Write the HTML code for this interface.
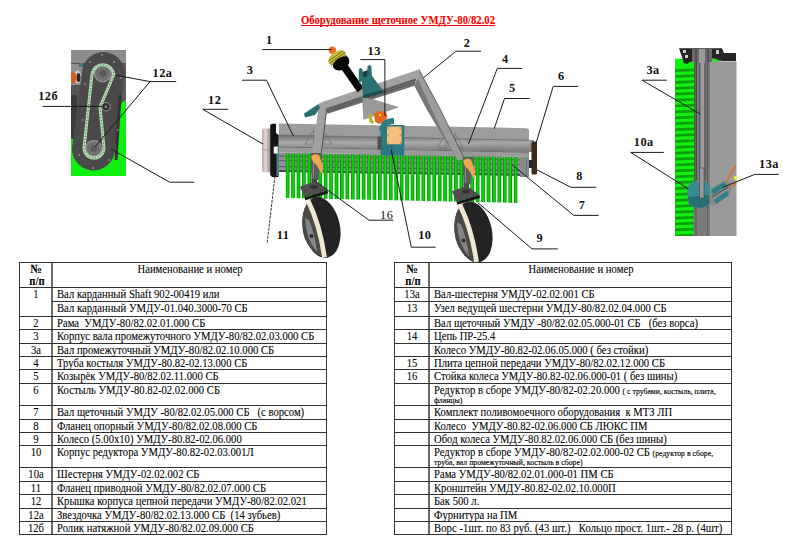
<!DOCTYPE html>
<html><head><meta charset="utf-8"><style>
html,body{margin:0;padding:0;background:#fff;}
body{width:800px;height:556px;overflow:hidden;position:relative;font-family:"Liberation Serif",serif;color:#000;}
.t,.b,.title{-webkit-text-stroke:0.08px currentColor;}
.h{position:absolute;height:1px;background:#333;}
.v{position:absolute;width:1px;background:#333;}
.t,.b{position:absolute;font-size:11.5px;line-height:13px;white-space:pre;transform:scaleX(0.926);transform-origin:0 0;}
.b{font-weight:bold;}
.c{text-align:center;transform-origin:50% 0;}
.s{font-size:8.4px;-webkit-text-stroke:0.15px #000;}
.title{position:absolute;left:301px;top:12px;font-size:13px;font-weight:bold;color:#f00;text-decoration:underline;text-decoration-skip-ink:none;white-space:nowrap;line-height:16px;transform:scaleX(0.822);transform-origin:0 0;}
.lbl{position:absolute;font-size:12px;font-weight:bold;line-height:14px;white-space:nowrap;}
svg{position:absolute;left:0;top:0;}
</style></head><body>
<svg width="800" height="556" viewBox="0 0 800 556">
<defs>
 <linearGradient id="cyl" x1="0" y1="0" x2="0" y2="1">
  <stop offset="0" stop-color="#6c6c6c"/><stop offset="0.45" stop-color="#a9a9a9"/><stop offset="1" stop-color="#747474"/>
 </linearGradient>
 <linearGradient id="brs" x1="0" y1="0" x2="1" y2="0">
  <stop offset="0" stop-color="#087a08"/><stop offset="0.4" stop-color="#08e008"/><stop offset="0.6" stop-color="#08d808"/><stop offset="1" stop-color="#067006"/>
 </linearGradient>
 <pattern id="bristle" x="285.75" y="0" width="5.43" height="300" patternUnits="userSpaceOnUse">
  <rect x="0" y="0" width="3.75" height="300" fill="url(#brs)"/>
 </pattern>
 <linearGradient id="beige" x1="0" y1="0" x2="1" y2="0">
  <stop offset="0" stop-color="#b8a8a6"/><stop offset="0.45" stop-color="#e6dad6"/><stop offset="1" stop-color="#9a8a86"/>
 </linearGradient>
 <clipPath id="clipL"><rect x="71" y="50" width="55" height="126"/></clipPath>
 <clipPath id="clipR"><rect x="675" y="47" width="62" height="189"/></clipPath>
</defs>

<!-- ============ LEFT ILLUSTRATION (chain drive) ============ -->
<g clip-path="url(#clipL)">
 <rect x="71" y="50" width="55" height="126" fill="#5e5e5e"/>
 <rect x="71" y="50" width="55" height="13" fill="#8c8c8c"/>
 <rect x="71" y="63" width="13" height="77" fill="#555"/><rect x="71" y="95" width="6" height="45" fill="#3a3a3a"/>
 <rect x="71" y="64" width="12" height="21" fill="#8e8e8e"/>
 <ellipse cx="77.5" cy="77" rx="4" ry="6.5" fill="#c8c8c8"/>
 <ellipse cx="78.5" cy="77.5" rx="2" ry="4.5" fill="#2a2a2a"/>
 <rect x="79" y="63" width="4" height="4" fill="#3a7a7a"/>
 <ellipse cx="73" cy="77.5" rx="3.5" ry="5.5" fill="#e05a18"/>
 <polygon points="71,139 83,139 83,112 117,106 126,100 126,176 71,176" fill="#10f010"/>
 <line x1="103.5" y1="73.5" x2="93.5" y2="149" stroke="#4a4a4a" stroke-width="43" stroke-linecap="round"/>
 <line x1="120" y1="95" x2="116" y2="160" stroke="#333" stroke-width="3"/>
 <!-- sprockets -->
 <circle cx="102.8" cy="73.5" r="8.3" fill="#6f6f6f" stroke="#8f8f8f" stroke-width="1.4"/>
 <circle cx="102.8" cy="73.5" r="3.5" fill="#5a5a5a"/>
 <circle cx="93.7" cy="148.5" r="7.8" fill="#6f6f6f" stroke="#8f8f8f" stroke-width="1.4"/>
 <circle cx="93.7" cy="148.5" r="3.2" fill="#5a5a5a"/>
 <!-- chain -->
 <path d="M92,74 A11,11 0 0 1 113.8,74.5 L100,107 L104,148 A10,10 0 0 1 84,148 Z" fill="none" stroke="#b0dcb0" stroke-width="3"/>
 <path d="M92,74 A11,11 0 0 1 113.8,74.5 L100,107 L104,148 A10,10 0 0 1 84,148 Z" fill="none" stroke="#3c5a40" stroke-width="1" stroke-dasharray="1 2.2"/>
 <!-- tensioner -->
 <circle cx="106" cy="106.7" r="4.2" fill="#2a2a2a" stroke="#999" stroke-width="1"/>
 <circle cx="106" cy="106.7" r="1.5" fill="#777"/>
 <!-- bolts -->
 <g fill="#8a8a8a">
  <circle cx="90" cy="62" r="1"/><circle cx="102" cy="55" r="1"/><circle cx="114" cy="62" r="1"/>
  <circle cx="85" cy="84" r="1"/><circle cx="121" cy="78" r="1"/><circle cx="83" cy="120" r="1"/>
  <circle cx="118" cy="130" r="1"/><circle cx="79" cy="155" r="1"/><circle cx="93" cy="168" r="1"/><circle cx="109" cy="160" r="1"/>
 </g>
</g>

<!-- ============ CENTER ILLUSTRATION ============ -->
<!-- brush core & bristles -->
<polygon points="279,152.4 527,156.5 527,175 279,171" fill="#929292"/>
<g stroke="#5a5a5a" stroke-width="0.9">
 <line x1="279" y1="156" x2="527" y2="160"/><line x1="279" y1="160.6" x2="527" y2="164.6"/><line x1="279" y1="166.5" x2="527" y2="170.5"/>
</g>
<polygon points="279,170 527,174 527,176 279,172" fill="#4e4a50"/>
<polygon points="285.5,153.5 517.6,157 517.6,203 285.5,198" fill="url(#bristle)"/>
<!-- cover body -->
<polygon points="279,123.4 527,128.2 529,130 529,141 279,136" fill="#9c9c9c"/>
<polygon points="275.5,134.9 534,140 534,152 275.5,146.6" fill="url(#cyl)"/>
<polygon points="275.5,146.6 529,152 529,157 279,152.4" fill="#9a9a9a"/>
<line x1="276" y1="146.8" x2="529" y2="152.2" stroke="#5e5e5e" stroke-width="0.8"/>
<line x1="276" y1="135" x2="529" y2="140.2" stroke="#6a6a6a" stroke-width="0.7"/>
<g fill="none" stroke="#6a6a6a" stroke-width="0.6">
 <polygon points="305,144 313.5,130 313.5,144"/><polygon points="323,144 323,130 332,144"/>
 <polygon points="437,148 446,133 446,148"/><polygon points="455,148 455,133 463,148"/>
</g>
<!-- left end flanges -->
<path d="M264,128.5 L270.2,128.5 L270.2,172.3 L264,172.3 Q262,172.3 262,170 L262,131 Q262,128.5 264,128.5 Z" fill="url(#beige)"/>
<line x1="262" y1="150" x2="270" y2="150" stroke="#9a8a88" stroke-width="0.7"/>
<polygon points="270.2,125 272,123.8 276,123.8 276,133 278.4,135 278.4,177 272,177 270.2,175" fill="#151515"/>
<rect x="276.5" y="146" width="2.5" height="30" fill="#4a8088"/>
<rect x="273.7" y="146.6" width="4" height="7" fill="#f4f4f4"/>
<!-- right end flange -->
<rect x="520" y="157" width="9" height="20" fill="#8a8a8a"/>
<line x1="526.5" y1="158" x2="526.5" y2="177" stroke="#3a8088" stroke-width="0.8"/>
<ellipse cx="532.5" cy="146" rx="2.2" ry="5.8" fill="#8a8a8a"/>
<rect x="531.5" y="141.4" width="5.5" height="33" rx="1.5" fill="#3e2818"/>
<rect x="529" y="160" width="4" height="8" fill="#2a2a2a"/>
<!-- frame: left tube -->
<polygon points="319.3,103 327,107.5 320.5,160 311,160" fill="#a0a0a0"/>
<line x1="326.8" y1="108" x2="320.5" y2="160" stroke="#4a4a4a" stroke-width="0.9"/>
<polygon points="304,113.5 305,117.5 315,115 320,108 318.5,104" fill="#2c6e70"/>
<!-- upper beam -->
<polygon points="319.3,103 418.9,69.4 414.4,85.8 327.4,113.8 326.5,108" fill="#a2a2a2"/>
<polygon points="326.5,108 416.5,78 414.4,85.8 327.4,113.8" fill="#6e6e6e"/>
<g stroke="#4e4e4e" stroke-width="0.7"><line x1="327" y1="109.5" x2="415.5" y2="80"/><line x1="327" y1="111.7" x2="415" y2="82.5"/></g>
<!-- right leg -->
<polygon points="418.9,69.4 440.6,110 465,160 457.4,160 442,135 427.2,110 414.4,85.8" fill="#9c9c9c"/>
<polygon points="414.4,85.8 418,79 430,106 444,135 457.4,160 442,135 427.2,110" fill="#787878"/>
<line x1="418.9" y1="69.4" x2="440.6" y2="110" stroke="#4a4a4a" stroke-width="0.8"/>
<line x1="440.6" y1="110" x2="465" y2="160" stroke="#4a4a4a" stroke-width="0.8"/>
<!-- triangle plate -->
<polygon points="362.5,96.5 397.8,107.2 363.8,119.2" fill="#9a9a9a" stroke="#777" stroke-width="0.6"/>
<!-- PTO shaft -->
<circle cx="332.4" cy="50.3" r="3.7" fill="#f07020"/>
<line x1="344.5" y1="67" x2="360.5" y2="90" stroke="#050505" stroke-width="7.5"/>
<ellipse cx="341" cy="62.8" rx="9" ry="7" fill="#050505" transform="rotate(-35 341 62.8)"/>
<ellipse cx="337.2" cy="57.8" rx="10" ry="6" fill="#c4bc38" transform="rotate(-35 337.2 57.8)"/>
<g stroke="#6a6418" stroke-width="0.8" transform="rotate(-35 337.2 57.8)">
 <line x1="328" y1="55.5" x2="346" y2="55.5"/><line x1="327.5" y1="58" x2="346.5" y2="58"/><line x1="328" y1="60.5" x2="346" y2="60.5"/>
</g>
<ellipse cx="340.5" cy="62.5" rx="8.5" ry="4.5" fill="#050505" transform="rotate(-35 340.5 62.5)"/>
<!-- teal hitch -->
<polygon points="362,72 368,70 368,78 362,79" fill="#173e40"/>
<path d="M358.8,83.6 L358.8,69.5 Q360.5,66.5 362.5,69.5 L363.5,80 Z" fill="#2c6e70"/>
<path d="M367,78 L367.5,66.5 Q369.5,63.5 371.4,66.5 L372,77 Z" fill="#2c6e70"/>
<polygon points="361.4,77.5 371.9,75.75 382.8,90.2 363.1,96.75" fill="#2c7072"/>
<polygon points="363.1,95 382.8,90.2 383.2,92.8 363.5,98.5" fill="#1a4a4c"/>
<!-- U-joint + gearbox -->
<path d="M371.5,114 Q368.5,119 373,123" stroke="#b8b030" stroke-width="3.2" fill="none"/>
<polygon points="374,114 379,111 386,112 387.5,117 384,122.5 379,124 375,121.5" fill="#e2661e"/>
<circle cx="380" cy="115" r="1.2" fill="#f0e030"/>
<path d="M382,131 Q383,121 394,121" stroke="#2a7e86" stroke-width="6" fill="none"/>
<polygon points="380.5,128 386,125 404.3,125 404.3,155.5 380.5,155.5" fill="#2a7a82"/>
<rect x="377.5" y="136.5" width="4" height="13" fill="#505050"/>
<polygon points="387,126.5 401.6,126.5 401.6,144.3 387,144.3" fill="#f6bf7c"/>
<g fill="#5a4a3a"><circle cx="388.3" cy="128" r="0.6"/><circle cx="400.3" cy="128" r="0.6"/><circle cx="388.3" cy="143" r="0.6"/><circle cx="400.3" cy="143" r="0.6"/><circle cx="388.3" cy="135" r="0.6"/><circle cx="400.3" cy="135" r="0.6"/></g>
<line x1="392" y1="145" x2="391" y2="155" stroke="#1e5a60" stroke-width="0.8"/>
<!-- left wheel -->
<g>
 <ellipse cx="321.5" cy="227.5" rx="18.5" ry="30.8" fill="#232323" transform="rotate(-11 321.5 227.5)"/>
 <path d="M313,198.5 Q301,206 302.5,228 Q304,248 324,258 Q320,226 309,200 Z" fill="#4a4a4a"/>
 <path d="M305,218 Q306,240 317,252 Q315,234 309,220 Z" fill="#858585"/>
 <circle cx="311.5" cy="236" r="2" fill="#2e2e2e"/>
 <path d="M308,200.5 Q320,225 324.5,257.5" stroke="#efe9d2" stroke-width="4.8" fill="none"/>
 
 
 
 
 <polygon points="310.5,153 321,153 318.5,180 311.5,180" fill="#5c5c5c"/>
 <line x1="313.5" y1="155" x2="313.5" y2="178" stroke="#8a8a8a" stroke-width="1"/>
 <rect x="311.5" y="179" width="5.5" height="10" fill="#4a4a4a"/>
 <polygon points="299.9,186.7 315,181.3 327.4,190.5 304.7,197.5" fill="#4e4e4e"/>
 <ellipse cx="314" cy="187" rx="4" ry="2" fill="#333"/>
 <polygon points="304.7,197.5 327.4,190.5 328,193.5 305.2,200.3" fill="#141414"/>
 <polygon points="311,156 315,154 319,155 323,166 322.5,175 317,166 312,160" fill="#f0a850"/>
</g>
<!-- right wheel -->
<g transform="translate(152 4.5)">
 <ellipse cx="321.5" cy="227.5" rx="18.5" ry="30.8" fill="#232323" transform="rotate(-11 321.5 227.5)"/>
 <path d="M313,198.5 Q301,206 302.5,228 Q304,248 324,258 Q320,226 309,200 Z" fill="#4a4a4a"/>
 <path d="M305,218 Q306,240 317,252 Q315,234 309,220 Z" fill="#858585"/>
 <circle cx="311.5" cy="236" r="2" fill="#2e2e2e"/>
 <path d="M308,200.5 Q320,225 324.5,257.5" stroke="#efe9d2" stroke-width="4.8" fill="none"/>
 
 
 
 
 <polygon points="310.5,153 321,153 318.5,180 311.5,180" fill="#5c5c5c"/>
 <line x1="313.5" y1="155" x2="313.5" y2="178" stroke="#8a8a8a" stroke-width="1"/>
 <rect x="311.5" y="179" width="5.5" height="10" fill="#4a4a4a"/>
 <polygon points="299.9,186.7 315,181.3 327.4,190.5 304.7,197.5" fill="#4e4e4e"/>
 <ellipse cx="314" cy="187" rx="4" ry="2" fill="#333"/>
 <polygon points="304.7,197.5 327.4,190.5 328,193.5 305.2,200.3" fill="#141414"/>
 <polygon points="311,156 315,154 319,155 323,166 322.5,175 317,166 312,160" fill="#f0a850"/>
</g>

<!-- ============ RIGHT ILLUSTRATION ============ -->
<g clip-path="url(#clipR)">
 <rect x="675" y="58.8" width="20" height="177" fill="#10f010"/>
 <g stroke="#0b9e0b" stroke-width="2.7"><line x1="675" y1="70.6" x2="694" y2="69.8"/><line x1="675" y1="76.5" x2="694" y2="75.7"/><line x1="675" y1="82.4" x2="694" y2="81.6"/><line x1="675" y1="88.3" x2="694" y2="87.5"/><line x1="675" y1="94.2" x2="694" y2="93.4"/><line x1="675" y1="100.1" x2="694" y2="99.3"/><line x1="675" y1="106.0" x2="694" y2="105.2"/><line x1="675" y1="111.9" x2="694" y2="111.1"/><line x1="675" y1="117.8" x2="694" y2="117.0"/><line x1="675" y1="123.7" x2="694" y2="122.9"/><line x1="675" y1="129.6" x2="694" y2="128.8"/><line x1="675" y1="135.5" x2="694" y2="134.7"/><line x1="675" y1="141.4" x2="694" y2="140.6"/><line x1="675" y1="147.3" x2="694" y2="146.5"/><line x1="675" y1="153.2" x2="694" y2="152.4"/><line x1="675" y1="159.1" x2="694" y2="158.3"/><line x1="675" y1="165.0" x2="694" y2="164.2"/><line x1="675" y1="170.9" x2="694" y2="170.1"/><line x1="675" y1="176.8" x2="694" y2="176.0"/><line x1="675" y1="182.7" x2="694" y2="181.9"/><line x1="675" y1="188.6" x2="694" y2="187.8"/><line x1="675" y1="194.5" x2="694" y2="193.7"/><line x1="675" y1="200.4" x2="694" y2="199.6"/><line x1="675" y1="206.3" x2="694" y2="205.5"/><line x1="675" y1="212.2" x2="694" y2="211.4"/><line x1="675" y1="218.1" x2="694" y2="217.3"/><line x1="675" y1="224.0" x2="694" y2="223.2"/><line x1="675" y1="229.9" x2="694" y2="229.1"/><line x1="675" y1="235.8" x2="694" y2="235.0"/></g>
 <rect x="694.5" y="55" width="14" height="181" fill="#7c7c7c"/>
 <rect x="700" y="58" width="4.6" height="120" fill="#9c9c9c"/>
 <g stroke="#3a3a3a" stroke-width="0.9">
  <line x1="694.8" y1="58" x2="694.8" y2="236"/><line x1="696.4" y1="58" x2="696.4" y2="180"/>
  <line x1="699.8" y1="58" x2="699.8" y2="180"/><line x1="705" y1="58" x2="705" y2="180"/>
  <line x1="707.8" y1="58" x2="707.8" y2="236"/>
 </g>
 <rect x="708.5" y="58.8" width="12" height="3" fill="#10f010"/>
 <rect x="708.5" y="61.4" width="28" height="175" fill="#9a9a9a"/>
 <line x1="709" y1="61" x2="709" y2="236" stroke="#5a5a5a" stroke-width="1"/>
 <polygon points="679,48.3 722,48.3 724,53 736,53 736,61 722,61 714,58.5 700,60 690,62 687,64 684,63" fill="#262626"/>
 <rect x="683" y="50" width="3" height="3" fill="#d8c8c0"/><rect x="685" y="55" width="3" height="3" fill="#d8c8c0"/>
 <rect x="716" y="50" width="3" height="4" fill="#d8c8c0"/><rect x="692" y="49" width="20" height="13" fill="#6a6a6a"/><rect x="699" y="49" width="6" height="14" fill="#9a9a9a"/><line x1="696" y1="49" x2="696" y2="62" stroke="#333" stroke-width="0.8"/><line x1="708" y1="49" x2="708" y2="62" stroke="#333" stroke-width="0.8"/>
 <path d="M727,181 Q731,172 736,166" stroke="#e86a20" stroke-width="1.6" fill="none"/>
 <path d="M726,191 Q731,188 736,183" stroke="#e86a20" stroke-width="1.6" fill="none"/>
 <circle cx="735.5" cy="178" r="2" fill="#f0f020"/>
 <polygon points="708,190 725,180 731,183 731,193 716,205 708,205" fill="#8a8a8a"/>
 <polygon points="711,190 724,182 727,186 713,195" fill="#2e7e86"/>
 <polygon points="714,200 727,191 729,195 716,204" fill="#2e7e86"/>
 <line x1="712" y1="197" x2="728" y2="187" stroke="#333" stroke-width="0.8"/>
 <polygon points="687,187 692,182 704,181 710,184 710,204 703,208 691,207 688,203" fill="#3a8a92"/>
 <polygon points="688,197 709,195 709,204 702,208 690,206" fill="#2a6e74"/>
 <rect x="699.5" y="168" width="4.5" height="30" fill="#9a9a9a" stroke="#444" stroke-width="0.6"/>
 <rect x="693.5" y="209" width="14" height="27" fill="#7a7a7a"/>
 <line x1="696" y1="209" x2="696" y2="236" stroke="#444" stroke-width="0.8"/>
</g>
</svg>
<svg width="800" height="556" viewBox="0 0 800 556" style="position:absolute;left:0;top:0">
<g fill="none" stroke="#1a1a1a" stroke-width="1">
 <polyline points="176.2,81.6 150,81.6 116,75.2"/>
 <polyline points="150,81.6 95,147"/>
 <polyline points="42.7,106.4 102.2,106.4"/>
 <polyline points="228.1,109.3 202.7,109.3 263,144"/>
 <polyline points="111,149 169.6,182.2 194.4,182.2"/>
 <polyline points="262.1,49.6 332,49.6"/>
 <polyline points="242,80.2 266.5,80.2 293.6,136.5"/>
 <polyline points="360.3,59.6 384.9,59.6 384.9,116"/>
 <polyline points="481.2,51.2 456,51.2 423.3,77.9"/>
 <polyline points="522,68.4 497.3,68.4 468.5,143.8"/>
 <polyline points="529.5,98.5 504.5,98.5 494.2,128.7"/>
 <polyline points="578.3,86.4 553.2,86.4 535.8,143.8"/>
 <polyline points="596.3,187.3 570.9,187.3 536.9,169.8"/>
 <polyline points="598.6,215.4 573.8,215.4 512.2,164.8"/>
 <polyline points="557.7,248.9 532,248.9 477.6,202.4"/>
 <polyline points="435.6,247.2 411.3,247.2 391.3,150"/>
 <polyline points="393.3,220.2 369,220.2 315.8,181.5"/>
 <polyline points="267.2,242.7 275.3,173.4" stroke-width="0.9" stroke="#222" stroke-dasharray="3 1"/>
 <polyline points="666.9,80.2 642,80.2 700.6,114.2"/>
 <polyline points="663.8,152.4 630.7,152.4 688,188.6"/>
 <polyline points="778.9,174.4 754.7,174.4 723,187.3"/>
</g>
<g font-family="Liberation Serif" font-weight="bold" font-size="12.3" fill="#111" letter-spacing="0.5">
 <text x="152.5" y="77">12а</text>
 <text x="38.2" y="100.3">12б</text>
 <text x="208" y="103.5">12</text>
 <text x="266" y="43.9">1</text>
 <text x="246.7" y="74.1">3</text>
 <text x="367.6" y="54.5">13</text>
 <text x="463.7" y="47">2</text>
 <text x="501.9" y="62.5">4</text>
 <text x="509.1" y="92">5</text>
 <text x="557.9" y="79.5">6</text>
 <text x="576.2" y="180.4">8</text>
 <text x="578.7" y="208.5">7</text>
 <text x="536.6" y="242.3">9</text>
 <text x="418.2" y="239.4">10</text>
 <text x="380" y="218.7" font-weight="normal">16</text>
 <text x="276.7" y="239.4">11</text>
 <text x="646.4" y="73.6">3а</text>
 <text x="633.8" y="145.7">10а</text>
 <text x="759" y="168.4">13а</text>
</g>
</svg>

<div class="title">Оборудование щеточное УМДУ-80/82.02</div>
<div class="v" style="left:19px;top:262px;height:273px"></div><div class="v" style="left:51px;top:262px;height:273px;width:2px;background:#6a6a6a"></div><div class="v" style="left:326px;top:262px;height:273px"></div><div class="v" style="left:394px;top:262px;height:273px"></div><div class="v" style="left:428px;top:262px;height:273px;width:2px;background:#6a6a6a"></div><div class="v" style="left:731px;top:262px;height:273px"></div><div class="h" style="left:19px;top:262px;width:308px"></div><div class="h" style="left:19px;top:287px;width:308px"></div><div class="b c" style="left:21.0px;top:263px;width:30px"><span style="font-size:12.5px">№</span></div><div class="b c" style="left:21.5px;top:275px;width:30px">п/п</div><div class="t c" style="left:90.0px;top:263px;width:200px">Наименование и номер</div><div class="h" style="left:19px;top:316px;width:308px"></div><div class="t c" style="left:20.9px;top:288px;width:30px">1</div><div class="t" style="left:57px;top:288px;">Вал карданный Shaft 902-00419 или</div><div class="h" style="left:52px;top:301px;width:275px"></div><div class="t" style="left:57px;top:302px;">Вал карданный УМДУ-01.040.3000-70 СБ</div><div class="h" style="left:19px;top:329px;width:308px"></div><div class="t c" style="left:20.9px;top:317px;width:30px">2</div><div class="t" style="left:57px;top:317px;">Рама  УМДУ-80/82.02.01.000 СБ</div><div class="h" style="left:19px;top:343px;width:308px"></div><div class="t c" style="left:20.9px;top:330px;width:30px">3</div><div class="t" style="left:57px;top:330px;">Корпус вала промежуточного УМДУ-80/82.02.03.000 СБ</div><div class="h" style="left:19px;top:356px;width:308px"></div><div class="t c" style="left:20.9px;top:344px;width:30px">3а</div><div class="t" style="left:57px;top:344px;">Вал промежуточный УМДУ-80/82.02.10.000 СБ</div><div class="h" style="left:19px;top:369px;width:308px"></div><div class="t c" style="left:20.9px;top:357px;width:30px">4</div><div class="t" style="left:57px;top:357px;">Труба костыля УМДУ-80.82-02.13.000 СБ</div><div class="h" style="left:19px;top:383px;width:308px"></div><div class="t c" style="left:20.9px;top:370px;width:30px">5</div><div class="t" style="left:57px;top:370px;">Козырёк УМДУ-80/82.02.11.000 СБ</div><div class="h" style="left:19px;top:405px;width:308px"></div><div class="t c" style="left:20.9px;top:384px;width:30px">6</div><div class="t" style="left:57px;top:384px;">Костыль УМДУ-80.82-02.02.000 СБ</div><div class="h" style="left:19px;top:419px;width:308px"></div><div class="t c" style="left:20.9px;top:406px;width:30px">7</div><div class="t" style="left:57px;top:406px;">Вал щеточный УМДУ -80/82.02.05.000 СБ   (с ворсом)</div><div class="h" style="left:19px;top:432px;width:308px"></div><div class="t c" style="left:20.9px;top:420px;width:30px">8</div><div class="t" style="left:57px;top:420px;">Фланец опорный УМДУ-80/82.02.08.000 СБ</div><div class="h" style="left:19px;top:445px;width:308px"></div><div class="t c" style="left:20.9px;top:433px;width:30px">9</div><div class="t" style="left:57px;top:433px;">Колесо (5.00х10) УМДУ-80.82-02.06.000</div><div class="h" style="left:19px;top:467px;width:308px"></div><div class="t c" style="left:20.9px;top:446px;width:30px">10</div><div class="t" style="left:57px;top:446px;">Корпус редуктора УМДУ-80.82-02.03.001Л</div><div class="h" style="left:19px;top:481px;width:308px"></div><div class="t c" style="left:20.9px;top:468px;width:30px">10а</div><div class="t" style="left:57px;top:468px;">Шестерня УМДУ-02.02.002 СБ</div><div class="h" style="left:19px;top:494px;width:308px"></div><div class="t c" style="left:20.9px;top:482px;width:30px">11</div><div class="t" style="left:57px;top:482px;">Фланец приводной УМДУ-80/82.02.07.000 СБ</div><div class="h" style="left:19px;top:508px;width:308px"></div><div class="t c" style="left:20.9px;top:495px;width:30px">12</div><div class="t" style="left:57px;top:495px;">Крышка корпуса цепной передачи УМДУ-80/82.02.021</div><div class="h" style="left:19px;top:521px;width:308px"></div><div class="t c" style="left:20.9px;top:509px;width:30px">12а</div><div class="t" style="left:57px;top:509px;">Звездочка УМДУ-80/82.02.13.000 СБ  (14 зубьев)</div><div class="h" style="left:19px;top:534px;width:308px"></div><div class="t c" style="left:20.9px;top:522px;width:30px">12б</div><div class="t" style="left:57px;top:522px;">Ролик натяжной УМДУ-80/82.02.09.000 СБ</div><div class="h" style="left:394px;top:262px;width:338px"></div><div class="h" style="left:394px;top:287px;width:338px"></div><div class="b c" style="left:397.0px;top:263px;width:30px"><span style="font-size:12.5px">№</span></div><div class="b c" style="left:397.5px;top:275px;width:30px">п/п</div><div class="t c" style="left:481.0px;top:263px;width:200px">Наименование и номер</div><div class="h" style="left:394px;top:301px;width:338px"></div><div class="t c" style="left:396.9px;top:288px;width:30px">13а</div><div class="t" style="left:434px;top:288px;">Вал-шестерня УМДУ-02.02.001 СБ</div><div class="h" style="left:394px;top:316px;width:338px"></div><div class="t c" style="left:396.9px;top:302px;width:30px">13</div><div class="t" style="left:434px;top:302px;">Узел ведущей шестерни УМДУ-80/82.02.04.000 СБ</div><div class="h" style="left:394px;top:329px;width:338px"></div><div class="t" style="left:434px;top:317px;">Вал щеточный УМДУ -80/82.02.05.000-01 СБ   (без ворса)</div><div class="h" style="left:394px;top:343px;width:338px"></div><div class="t c" style="left:396.9px;top:330px;width:30px">14</div><div class="t" style="left:434px;top:330px;">Цепь ПР-25.4</div><div class="h" style="left:394px;top:356px;width:338px"></div><div class="t" style="left:434px;top:344px;">Колесо УМДУ-80.82-02.06.05.000 ( без стойки)</div><div class="h" style="left:394px;top:369px;width:338px"></div><div class="t c" style="left:396.9px;top:357px;width:30px">15</div><div class="t" style="left:434px;top:357px;">Плита цепной передачи УМДУ-80/82.02.12.000 СБ</div><div class="h" style="left:394px;top:383px;width:338px"></div><div class="t c" style="left:396.9px;top:370px;width:30px">16</div><div class="t" style="left:434px;top:370px;">Стойка колеса УМДУ-80.82-02.06.000-01 ( без шины)</div><div class="h" style="left:394px;top:405px;width:338px"></div><div class="t" style="left:434px;top:384px;">Редуктор в сборе УМДУ-80/82-02.20.000 <span class="s">( с трубами, костыль, плита,</span></div><div class="h" style="left:394px;top:419px;width:338px"></div><div class="t" style="left:434px;top:406px;">Комплект поливомоечного оборудования  к МТЗ ЛП</div><div class="h" style="left:394px;top:432px;width:338px"></div><div class="t" style="left:434px;top:420px;">Колесо  УМДУ-80.82-02.06.000 СБ ЛЮКС ПМ</div><div class="h" style="left:394px;top:445px;width:338px"></div><div class="t" style="left:434px;top:433px;">Обод колеса УМДУ-80.82.02.06.000 СБ (без шины)</div><div class="h" style="left:394px;top:467px;width:338px"></div><div class="t" style="left:434px;top:446px;">Редуктор в сборе УМДУ-80/82-02.02.000-02 СБ <span class="s">(редуктор в сборе,</span></div><div class="h" style="left:394px;top:481px;width:338px"></div><div class="t" style="left:434px;top:468px;">Рама УМДУ-80/82.02.01.000-01 ПМ СБ</div><div class="h" style="left:394px;top:494px;width:338px"></div><div class="t" style="left:434px;top:482px;">Кронштейн УМДУ-80.82-02.02.10.000П</div><div class="h" style="left:394px;top:508px;width:338px"></div><div class="t" style="left:434px;top:495px;">Бак 500 л.</div><div class="h" style="left:394px;top:521px;width:338px"></div><div class="t" style="left:434px;top:509px;">Фурнитура на ПМ</div><div class="h" style="left:394px;top:534px;width:338px"></div><div class="t" style="left:434px;top:522px;"><span style="letter-spacing:0.07px">Ворс -1шт. по 83 руб. (43 шт.)   Кольцо прост. 1шт.- 28 р. (4шт)</span></div><div class="t" style="left:434px;top:395px;line-height:8px"><span class="s">фланцы)</span></div><div class="t" style="left:434px;top:457px;line-height:8px"><span class="s">труба, вал промежуточный, костыль в сборе)</span></div>
</body></html>
